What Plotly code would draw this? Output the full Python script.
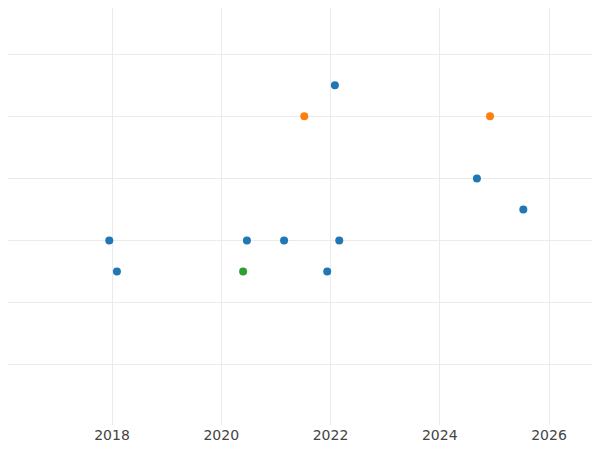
import plotly.graph_objects as go

# points per series (x in fractional years)
blue_x = [2017.95, 2018.09, 2020.47, 2021.15, 2022.16, 2021.94, 2022.08, 2024.68, 2025.53]
blue_y = [2, 1.5, 2, 2, 2, 1.5, 4.5, 3, 2.5]
orange_x = [2021.52, 2024.92]
orange_y = [4, 4]
green_x = [2020.40]
green_y = [1.5]
year_ticks = [2016, 2018, 2020, 2022, 2024, 2026]
year_labels = ["", "2018", "2020", "2022", "2024", "2026"]

fig = go.Figure()
fig.add_trace(go.Scatter(x=blue_x, y=blue_y, mode="markers",
    marker=dict(color="#1f77b4", size=8)))
fig.add_trace(go.Scatter(x=orange_x, y=orange_y, mode="markers",
    marker=dict(color="#ff7f0e", size=8)))
fig.add_trace(go.Scatter(x=green_x, y=green_y, mode="markers",
    marker=dict(color="#2ca02c", size=8)))

fig.update_layout(
    width=600, height=450,
    template="plotly_white",
    showlegend=False,
    margin=dict(l=0, r=0, t=0, b=33),
    font=dict(family="DejaVu Sans", size=14, color="#444"),
    xaxis=dict(range=[2016.096, 2027.08], tickvals=year_ticks, ticktext=year_labels,
               gridcolor="#ebebeb", zeroline=False, automargin=False),
    yaxis=dict(range=[-0.968, 5.742], dtick=1, showticklabels=False,
               gridcolor="#ebebeb", zeroline=False, automargin=False),
)

fig.write_html("out.html")
